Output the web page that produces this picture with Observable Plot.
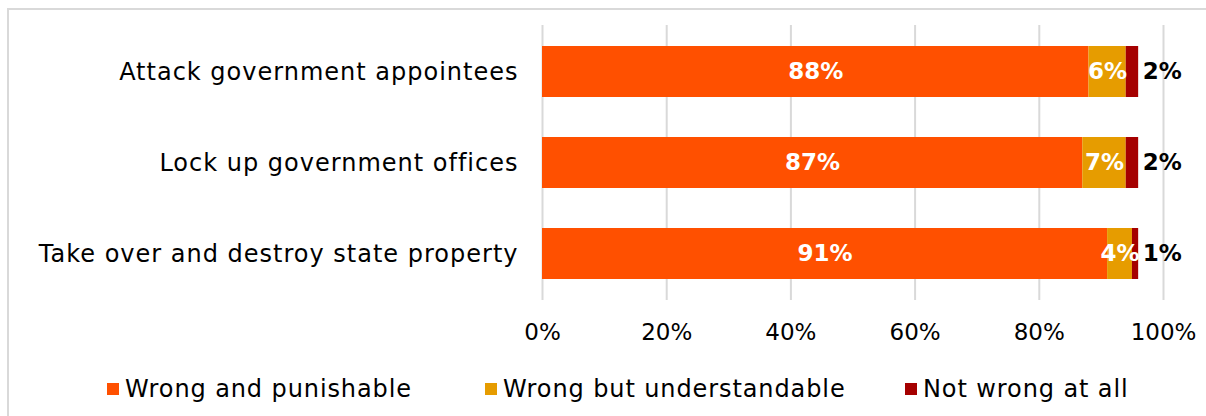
<!DOCTYPE html>
<html><head><meta charset="utf-8">
<script src="https://cdn.jsdelivr.net/npm/d3@7"></script>
<script src="https://cdn.jsdelivr.net/npm/@observablehq/plot@0.6"></script>
<style>
html,body{margin:0;padding:0;background:#fff;width:1206px;height:416px;overflow:hidden;font-family:"DejaVu Sans",sans-serif;}
#frame{position:absolute;left:7px;top:8px;width:1400px;height:600px;border:2px solid #d9d9d9;box-sizing:border-box;}
#chart{position:absolute;left:0;top:0;}
#legend{position:absolute;top:375px;left:0;width:1206px;height:28px;font-size:24px;letter-spacing:0.9px;color:#000;}
.item{position:absolute;top:0;display:flex;align-items:center;white-space:nowrap;height:28px;}
.sw{width:12px;height:12px;margin-right:6px;}
#chart g[aria-label="y-axis tick label"] text{font-size:24px;letter-spacing:1px;}
</style></head><body>
<div id="frame"></div><div id="chart"></div><div id="legend"></div>
<script>
const categories = ["Attack government appointees", "Lock up government offices", "Take over and destroy state property"];
const seriesNames = ["Wrong and punishable", "Wrong but understandable", "Not wrong at all"];
const wrongAndPunishable = [88, 87, 91];
const wrongButUnderstandable = [6, 7, 4];
const notWrongAtAll = [2, 2, 1];
const seriesColors = ["#FF5000", "#E69C00", "#A50000"];
const xTicks = [0, 20, 40, 60, 80, 100];

const legendLeft = [107, 485, 905];
const FONT = '"DejaVu Sans", sans-serif';

const seriesValues = [wrongAndPunishable, wrongButUnderstandable, notWrongAtAll];
const data = [];
categories.forEach((c, i) => {
  seriesValues.forEach((arr, j) => data.push({category: c, series: seriesNames[j], value: arr[i]}));
});

const chart = Plot.plot({
  width: 1206, height: 360,
  marginTop: 25, marginBottom: 60, marginLeft: 542, marginRight: 43,
  style: {fontFamily: FONT, fontSize: "23px", color: "#000", background: "transparent", overflow: "visible"},
  x: {domain: [0, 100], ticks: xTicks, tickFormat: d => d + "%", tickSize: 0, tickPadding: 23, label: null},
  y: {domain: categories, paddingInner: 0.44, paddingOuter: 0.23, tickSize: 0, tickPadding: 24, label: null},
  color: {domain: seriesNames, range: seriesColors},
  marks: [
    Plot.ruleX(xTicks, {stroke: "#d9d9d9", strokeWidth: 2}),
    Plot.barX(data, Plot.stackX({x: "value", y: "category", fill: "series"})),
    Plot.text(data, Plot.stackX({x: "value", y: "category", z: "series",
      text: d => d.series !== seriesNames[2] ? d.value + "%" : null,
      fill: "white", fontWeight: "bold"})),
    Plot.text(data, Plot.stackX2({x: "value", y: "category", z: "series",
      text: d => d.series === seriesNames[2] ? d.value + "%" : null,
      textAnchor: "start", dx: 4, fill: "black", fontWeight: "bold"}))
  ]
});
document.getElementById("chart").appendChild(chart);

const legend = document.getElementById("legend");
seriesNames.forEach((s, j) => {
  const it = document.createElement("div");
  it.className = "item";
  it.style.left = legendLeft[j] + "px";
  const sw = document.createElement("span");
  sw.className = "sw";
  sw.style.background = seriesColors[j];
  const tx = document.createElement("span");
  tx.textContent = s;
  it.appendChild(sw); it.appendChild(tx);
  legend.appendChild(it);
});
</script>
</body></html>
